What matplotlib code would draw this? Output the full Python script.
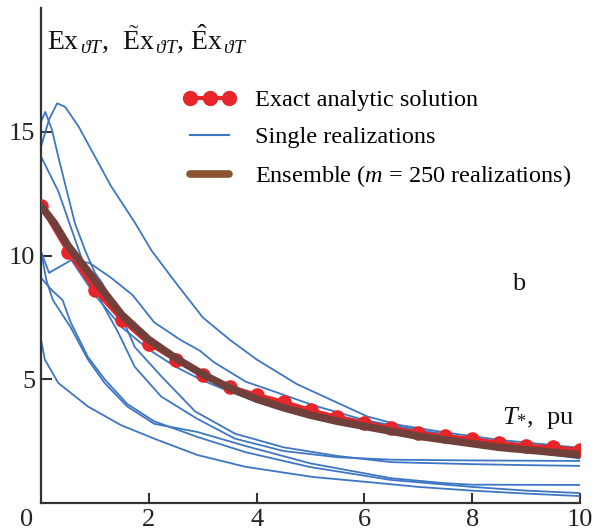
import matplotlib
matplotlib.use("Agg")
import matplotlib.pyplot as plt
from matplotlib.lines import Line2D

plt.rcParams['font.family'] = ['Liberation Serif', 'DejaVu Serif']
plt.rcParams['mathtext.fontset'] = 'custom'
plt.rcParams['mathtext.rm'] = 'Liberation Serif'
plt.rcParams['mathtext.it'] = 'Liberation Serif:italic'
plt.rcParams['mathtext.bf'] = 'Liberation Serif:bold'

# ---- data ----
exact_x = [0, 0.5, 1, 1.5, 2, 2.5, 3, 3.5, 4, 4.5, 5, 5.5, 6, 6.5, 7, 7.5, 8, 8.5, 9, 9.5, 10]
exact_y = [12.0, 10.16, 8.6, 7.4, 6.44, 5.78, 5.18, 4.7, 4.37, 4.09, 3.75, 3.47, 3.24, 3.04, 2.83,
           2.7, 2.59, 2.43, 2.31, 2.25, 2.15]

ens_x = [0, 0.25, 0.5, 0.75, 1.0, 1.25, 1.5, 2, 2.5, 3, 3.5, 4, 4.5, 5, 5.5, 6, 6.5, 7, 7.5, 8, 8.5, 9, 9.5, 10]
ens_y = [12.0, 11.3, 10.4, 9.7, 9.0, 8.3, 7.6, 6.6, 5.85, 5.2, 4.65, 4.2, 3.85, 3.55, 3.3, 3.1, 2.9,
         2.7, 2.55, 2.4, 2.25, 2.15, 2.05, 1.95]

realA_x = [0, 0.15, 0.3, 0.45, 0.7, 1.0, 1.3, 1.75, 2.05, 2.5, 3.0, 3.5, 4.0, 4.75, 5.5, 6.05, 6.65, 7.5, 8.5, 9.3, 10]
realA_y = [14.4, 15.5, 16.15, 16.0, 15.2, 14.0, 12.8, 11.3, 10.2, 8.9, 7.5, 6.6, 5.8, 4.8, 4.05, 3.5, 3.15,
           2.85, 2.55, 2.38, 2.23]

realB_x = [0, 0.08, 0.2, 0.32, 0.48, 0.63, 0.82, 1.0, 1.13, 1.5, 1.74, 2.24, 2.86, 3.6, 4.5, 5.5, 6.5, 8, 9, 10]
realB_y = [15.4, 15.8, 15.1, 14.0, 12.6, 11.3, 10.2, 9.3, 8.9, 7.5, 6.3, 5.1, 3.7, 2.8, 2.25, 1.9, 1.65,
           1.57, 1.53, 1.5]

realC_x = [0, 0.32, 0.8, 1.15, 1.43, 1.74, 2.23, 2.9, 3.6, 4.5, 5.5, 6.5, 8, 10]
realC_y = [14.0, 12.6, 9.6, 8.0, 6.9, 5.5, 4.3, 3.4, 2.6, 2.1, 1.85, 1.75, 1.72, 1.7]

realD_x = [0, 0.15, 0.55, 0.9, 1.3, 1.7, 2.1, 2.58, 2.95, 3.2, 3.8, 4.2, 5.05, 6, 7, 8, 9, 10]
realD_y = [10.15, 9.3, 9.8, 9.7, 9.1, 8.4, 7.3, 6.6, 6.15, 5.7, 4.9, 4.6, 3.95, 3.35, 2.95, 2.6, 2.35, 2.08]

realE1_x = [0, 0.3, 0.6, 1, 1.5, 2, 2.5, 3, 3.5, 4, 5, 6, 7, 8, 9, 10]
realE1_y = [12.0, 11.1, 10.1, 8.9, 7.6, 6.6, 5.85, 5.22, 4.75, 4.35, 3.75, 3.3, 2.9, 2.55, 2.25, 1.87]

realE2_x = [0, 0.3, 0.6, 1, 1.5, 2, 2.5, 3, 3.5, 4, 5, 6, 7, 8, 9, 10]
realE2_y = [12.0, 10.9, 9.7, 8.4, 7.1, 6.2, 5.5, 4.95, 4.5, 4.1, 3.55, 3.1, 2.72, 2.38, 2.08, 1.8]

realF_x = [0, 0.1, 0.22, 0.55, 0.87, 1.18, 1.6, 2.1, 2.9, 3.8, 5.0, 6.5, 7.5, 8.0, 10]
realF_y = [10.15, 9.0, 8.2, 7.1, 5.8, 4.85, 3.9, 3.2, 2.87, 2.3, 1.6, 1.0, 0.8, 0.74, 0.73]

realG_x = [0, 0.2, 0.4, 0.55, 0.87, 1.18, 1.6, 2.1, 2.9, 3.8, 5.0, 6.5, 8, 9, 10]
realG_y = [9.1, 8.6, 8.2, 7.3, 5.9, 5.0, 4.0, 3.3, 2.67, 2.05, 1.45, 0.93, 0.65, 0.5, 0.4]

realH_x = [0, 0.07, 0.32, 0.87, 1.48, 2.1, 2.9, 3.8, 5.05, 6.05, 7, 8, 9, 10]
realH_y = [6.6, 5.8, 4.85, 3.9, 3.15, 2.6, 1.94, 1.46, 1.05, 0.85, 0.65, 0.5, 0.38, 0.28]

realizations = [(realA_x, realA_y), (realB_x, realB_y), (realC_x, realC_y), (realD_x, realD_y),
                (realE1_x, realE1_y), (realE2_x, realE2_y), (realF_x, realF_y),
                (realG_x, realG_y), (realH_x, realH_y)]

labels = ["Exact analytic solution", "Single realizations",
          r"Ensemble ($m$ = 250 realizations)"]
xticks = [2, 4, 6, 8, 10]
yticks = [5, 10, 15]

# ---- figure ----
fig = plt.figure(figsize=(6.04, 5.31), dpi=100)
ax = fig.add_axes([41/604, 1 - 503/531, (580-41)/604, (503-8)/531])

blue = '#3d76c3'
red = '#e8262a'
brown = '#72403b'

for xs, ys in realizations:
    ax.plot(xs, ys, color=blue, lw=1.3, zorder=2)
ax.plot(exact_x, exact_y, color=red, lw=3, marker='o', ms=9.5, zorder=3)
ax.plot(ens_x, ens_y, color=brown, lw=5.5, solid_capstyle='round', zorder=4)

ax.set_xlim(0, 10)
ax.set_ylim(0, 20)
ax.set_xticks(xticks)
ax.set_yticks(yticks)
ax.tick_params(axis='both', direction='in', labelsize=19, width=1.5, color='#333333', labelcolor='#222222')
ax.tick_params(axis='x', length=7, pad=4)
ax.tick_params(axis='y', length=8, pad=4)
for s in ['top', 'right']:
    ax.spines[s].set_visible(False)
for s in ['left', 'bottom']:
    ax.spines[s].set_linewidth(1.6)
    ax.spines[s].set_color('#333333')

ax.text(-0.26, -0.7, "0", fontsize=19, color='#222222', ha='center', va='center')

ax.text(0.11, 18.35,
        r"$\mathrm{Ex}_{\,\vartheta T}$,  $\tilde{\mathrm{E}}\mathrm{x}_{\,\vartheta T}$, $\hat{\mathrm{E}}\mathrm{x}_{\,\vartheta T}$",
        fontsize=20, ha='left', va='baseline', color='#111111')
ax.text(8.55, 3.2, r"$T_{*}$,  pu", fontsize=19, ha='left', va='baseline', color='#111111')
ax.text(8.74, 8.6, "b", fontsize=19, ha='left', va='baseline', color='#111111')

handles = [Line2D([], [], color=red, lw=3, marker='o', ms=10),
           Line2D([], [], color=blue, lw=1.5),
           Line2D([], [], color='#8a5431', lw=5.5, solid_capstyle='round')]
leg = ax.legend(handles, labels, loc='upper left', bbox_to_anchor=((183-41)/539, (503-89)/495),
                frameon=False, fontsize=17.5, numpoints=3, handlelength=2.2, handletextpad=0.78,
                labelspacing=0.62, borderaxespad=0, borderpad=0)

fig.savefig("out.png", dpi=100)
